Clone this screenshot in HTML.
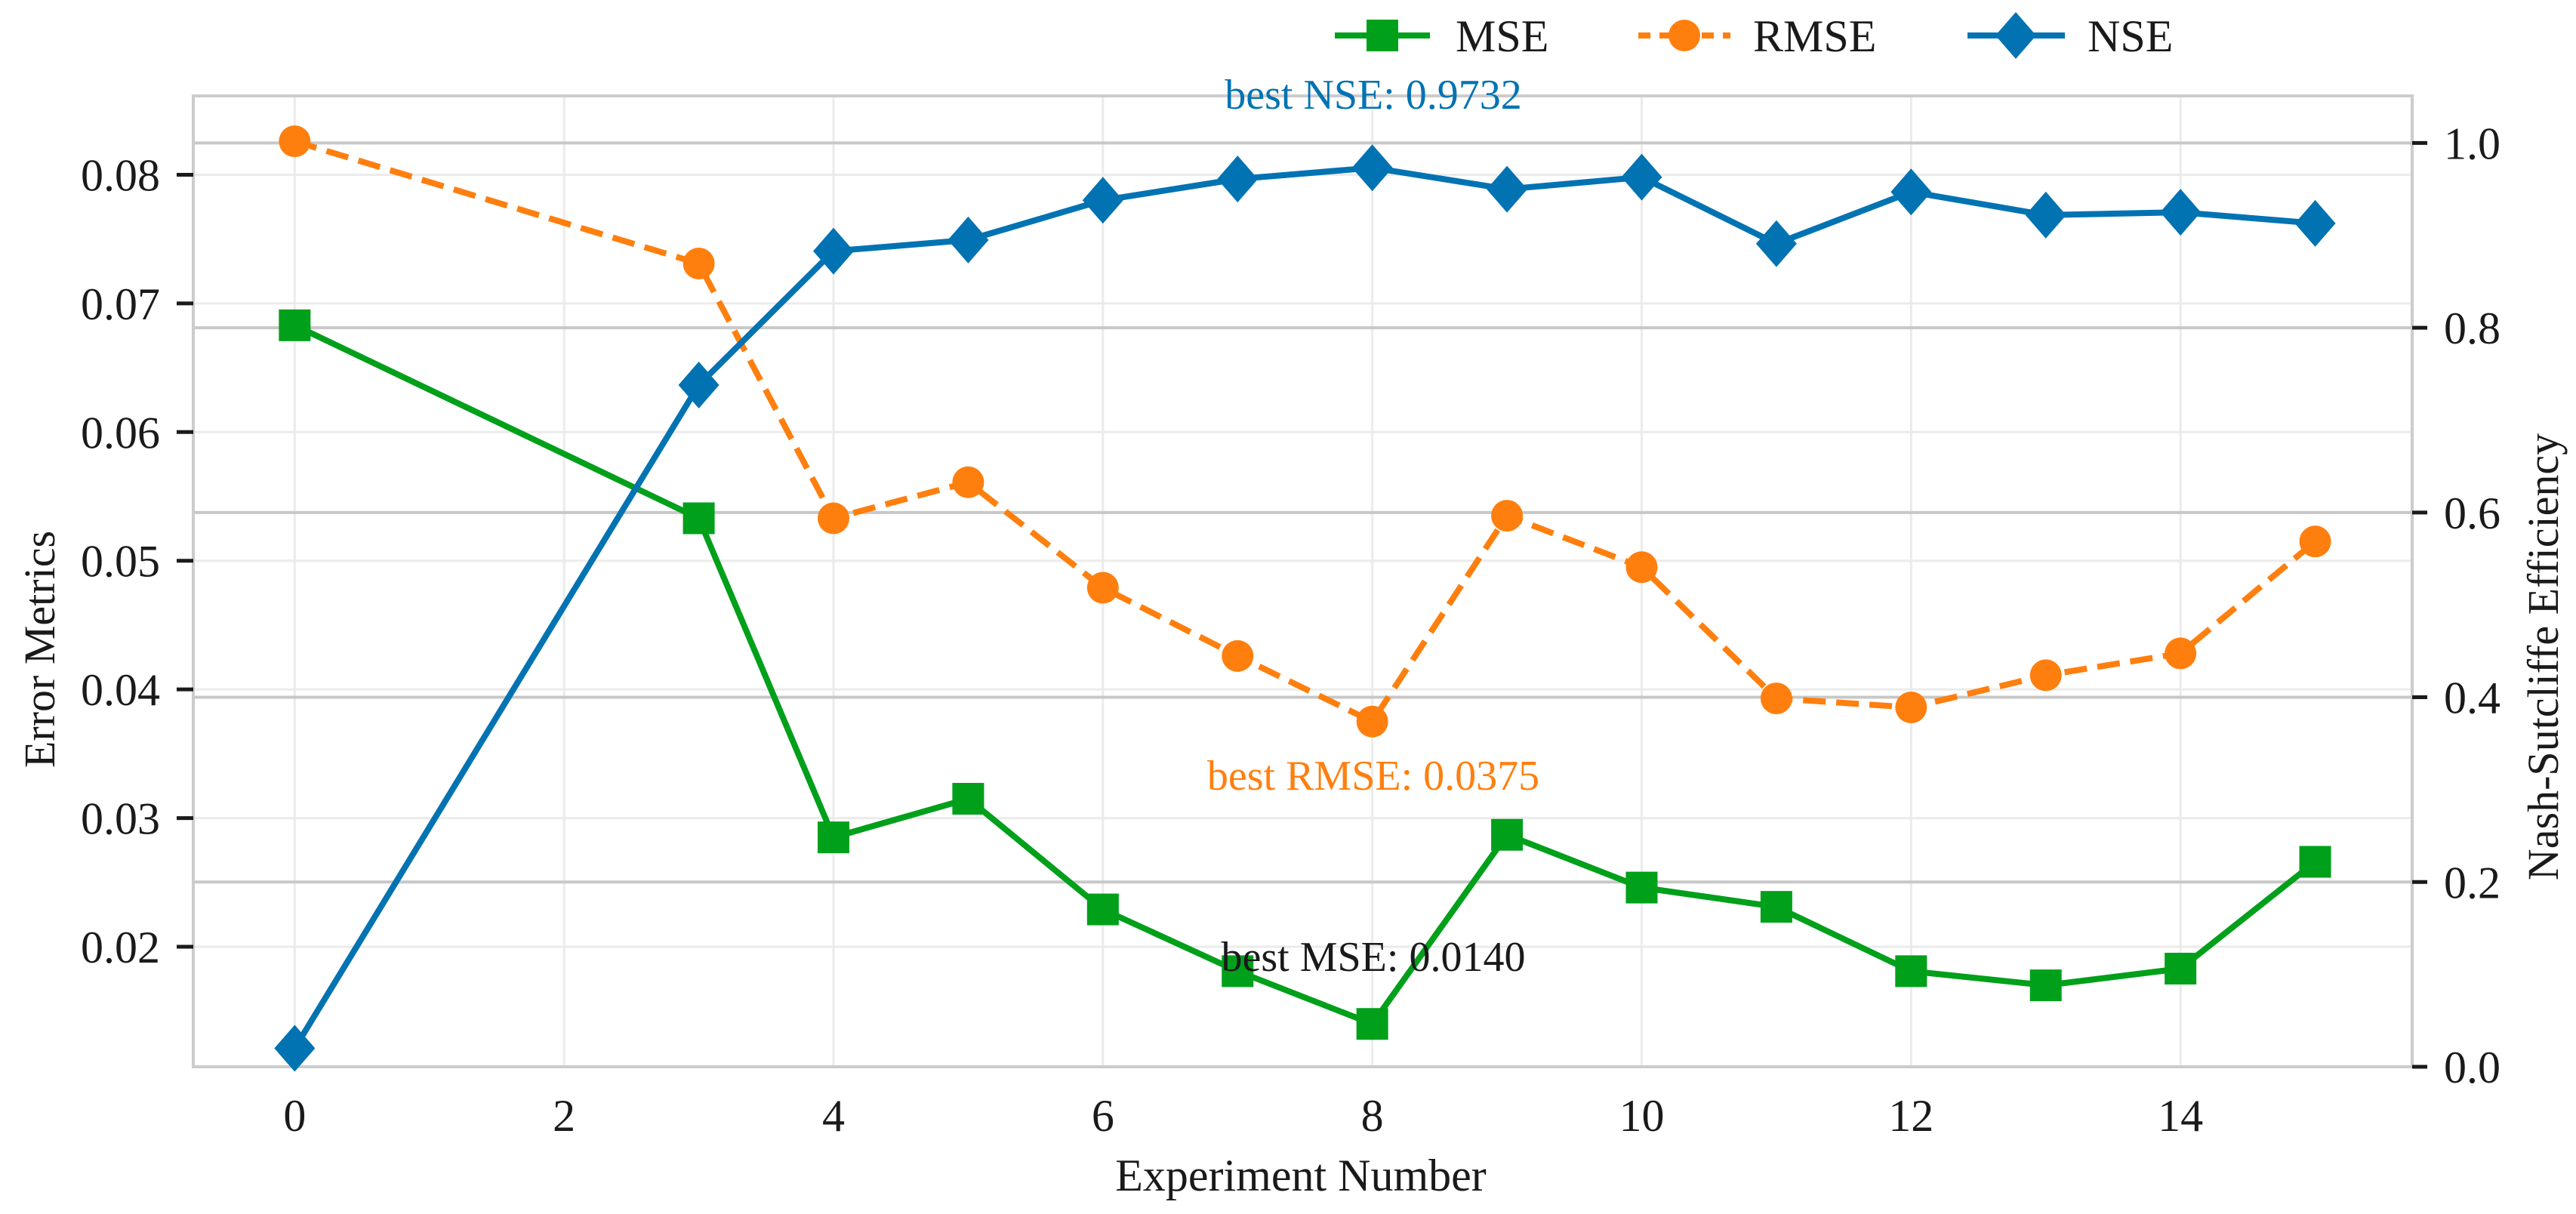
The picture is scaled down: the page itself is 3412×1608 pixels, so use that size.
<!DOCTYPE html>
<html><head><meta charset="utf-8"><style>
html,body{margin:0;padding:0;background:#fff;}
svg{display:block;}
text{font-family:"Liberation Serif",serif;fill:#1a1a1a;}
</style></head><body>
<svg id="chart" width="3412" height="1608" viewBox="0 0 3412 1608" xmlns="http://www.w3.org/2000/svg">
<g id="grid"></g><g id="axes"></g><g id="series"></g><g id="labels"></g>
</svg>
<script>
const experiments = [0,3,4,5,6,7,8,9,10,11,12,13,14,15];
const mseValues = [0.0683,0.0533,0.0285,0.0315,0.0229,0.0181,0.0140,0.0287,0.0246,0.0231,0.0181,0.0170,0.0183,0.0266];
const rmseValues = [0.0826,0.0731,0.0533,0.0561,0.0479,0.0426,0.0375,0.0535,0.0495,0.0393,0.0386,0.0411,0.0428,0.0515];
const nseValues = [0.020,0.738,0.883,0.895,0.938,0.961,0.9732,0.950,0.963,0.891,0.947,0.922,0.925,0.913];
const xTicks = [0,2,4,6,8,10,12,14];
const leftTicks = [0.02,0.03,0.04,0.05,0.06,0.07,0.08];
const rightTicks = [0.0,0.2,0.4,0.6,0.8,1.0];

const L=256,R=3195,T=127,B=1413;
const xMin=-0.753,xMax=15.72;
const lMin=0.01067,lMax=0.08613;
const rMin=0,rMax=1.051;
const sx=v=>L+(v-xMin)/(xMax-xMin)*(R-L);
const sl=v=>B-(v-lMin)/(lMax-lMin)*(B-T);
const sr=v=>B-(v-rMin)/(rMax-rMin)*(B-T);
const NS="http://www.w3.org/2000/svg";
function mk(parent,tag,attrs,txt){const e=document.createElementNS(NS,tag);for(const k in attrs)e.setAttribute(k,attrs[k]);if(txt!==undefined)e.textContent=txt;document.getElementById(parent).appendChild(e);return e;}
const GREEN="#00a01a",ORANGE="#ff7f0e",BLUE="#0173b2";

// light grid
xTicks.forEach(t=>{const e=mk('grid','line',{x1:sx(t),x2:sx(t),y1:T,y2:B,stroke:'#ebebeb','stroke-width':3});

});
leftTicks.forEach(t=>{const e=mk('grid','line',{x1:L,x2:R,y1:sl(t),y2:sl(t),stroke:'#ebebeb','stroke-width':3});

});
rightTicks.forEach(t=>{const e=mk('grid','line',{x1:L,x2:R,y1:sr(t),y2:sr(t),stroke:'#c8c8c8','stroke-width':4});

});
// frame
const fr=mk('axes','rect',{x:L,y:T,width:R-L,height:B-T,fill:'none',stroke:'#cccccc','stroke-width':4});



// ticks
leftTicks.forEach(t=>{const y=sl(t);
const tk=mk('axes','line',{x1:234,x2:L,y1:y,y2:y,stroke:'#1a1a1a','stroke-width':5});


const lb=mk('axes','text',{x:212,y:y+21,'text-anchor':'end','font-size':60},t.toFixed(2));

});
rightTicks.forEach(t=>{const y=sr(t);
const tk=mk('axes','line',{x1:R,x2:R+20,y1:y,y2:y,stroke:'#1a1a1a','stroke-width':5});


const lb=mk('axes','text',{x:3237,y:y+21,'font-size':60},t.toFixed(1));

});
xTicks.forEach(t=>{
const lb=mk('axes','text',{x:sx(t),y:1498,'text-anchor':'middle','font-size':60},String(t));

});

// axis titles
let e;
e=mk('labels','text',{x:1723,y:1577,'text-anchor':'middle','font-size':60},'Experiment Number');


e=mk('labels','text',{x:0,y:0,'text-anchor':'middle','font-size':58,transform:'translate(72,860) rotate(-90)'},'Error Metrics');


e=mk('labels','text',{x:0,y:0,'text-anchor':'middle','font-size':58,transform:'translate(3388,870) rotate(-90)'},'Nash-Sutcliffe Efficiency');



// series
function pts(vals,sc){return experiments.map((x,i)=>sx(x)+','+sc(vals[i])).join(' ');}
e=mk('series','polyline',{points:pts(mseValues,sl),fill:'none',stroke:GREEN,'stroke-width':8,'stroke-linejoin':'round'});


e=mk('series','polyline',{points:pts(rmseValues,sl),fill:'none',stroke:ORANGE,'stroke-width':8,'stroke-dasharray':'30 14'});


e=mk('series','polyline',{points:pts(nseValues,sr),fill:'none',stroke:BLUE,'stroke-width':8,'stroke-linejoin':'round'});


experiments.forEach((x,i)=>{
const cx=sx(x);
let m=mk('series','rect',{x:cx-21,y:sl(mseValues[i])-21,width:42,height:42,fill:GREEN});


m=mk('series','circle',{cx:cx,cy:sl(rmseValues[i]),r:21,fill:ORANGE});


const y=sr(nseValues[i]);
m=mk('series','polygon',{points:`${cx},${y-31} ${cx+27},${y} ${cx},${y+31} ${cx-27},${y}`,fill:BLUE});


});

// annotations
e=mk('labels','text',{x:1819,y:144,'text-anchor':'middle','font-size':56,style:'fill:'+BLUE},'best NSE: 0.9732');


e=mk('labels','text',{x:1819,y:1046,'text-anchor':'middle','font-size':56,style:'fill:'+ORANGE},'best RMSE: 0.0375');


e=mk('labels','text',{x:1819,y:1286,'text-anchor':'middle','font-size':56},'best MSE: 0.0140');



// legend
const LY=47;
e=mk('labels','line',{x1:1768,x2:1894,y1:LY,y2:LY,stroke:GREEN,'stroke-width':8});


e=mk('labels','rect',{x:1810,y:LY-21,width:42,height:42,fill:GREEN});


e=mk('labels','text',{x:1928,y:LY+21,'font-size':60},'MSE');


e=mk('labels','line',{x1:2170,x2:2292,y1:LY,y2:LY,stroke:ORANGE,'stroke-width':8,'stroke-dasharray':'16 12'});


e=mk('labels','circle',{cx:2231,cy:LY,r:21,fill:ORANGE});


e=mk('labels','text',{x:2322,y:LY+21,'font-size':60},'RMSE');


e=mk('labels','line',{x1:2606,x2:2735,y1:LY,y2:LY,stroke:BLUE,'stroke-width':8});


e=mk('labels','polygon',{points:`2670,${LY-31} 2697,${LY} 2670,${LY+31} 2643,${LY}`,fill:BLUE});


e=mk('labels','text',{x:2765,y:LY+21,'font-size':60},'NSE');


</script>
</body></html>
